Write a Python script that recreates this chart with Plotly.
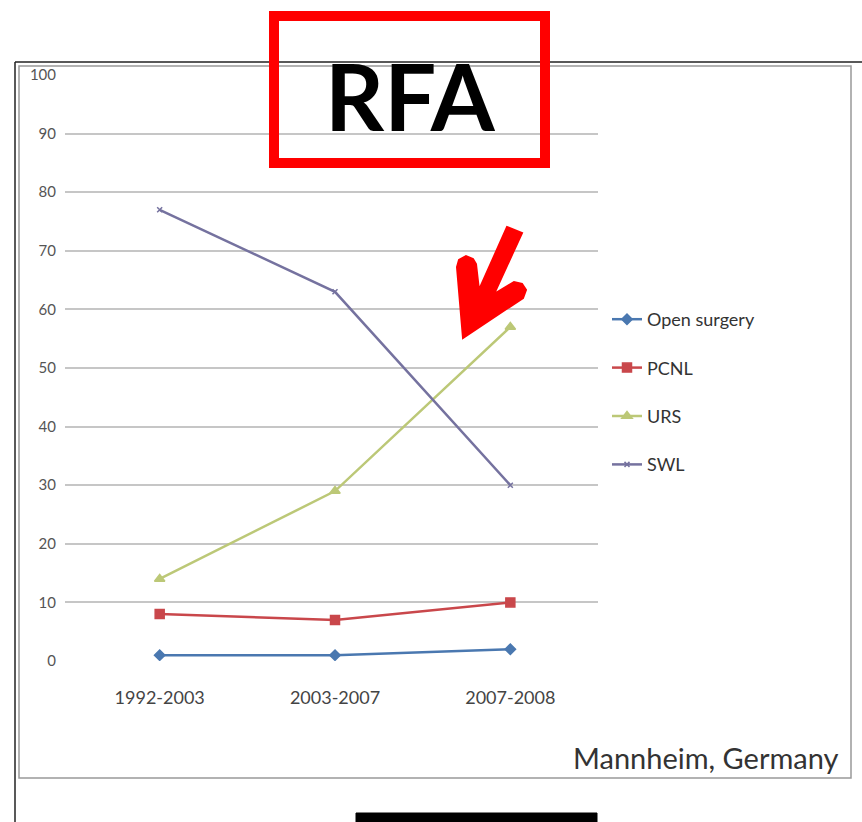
import plotly.graph_objects as go

W, H = 862, 822

periods = ["1992-2003", "2003-2007", "2007-2008"]
open_surgery = [1, 1, 2]
pcnl = [8, 7, 10]
urs = [14, 29, 57]
swl = [77, 63, 30]
y_ticks = [0, 10, 20, 30, 40, 50, 60, 70, 80, 90, 100]

series = [
    ("Open surgery", open_surgery, "#4a78b0", "diamond", 8),
    ("PCNL", pcnl, "#c9474b", "square", 9),
    ("URS", urs, "#bcc877", "triangle-up", 9),
    ("SWL", swl, "#75729f", "x-thin", 5),
]


def px(x):
    return x / W


def py(y):
    return (H - y) / H


def poly(points):
    return "M " + " L ".join(f"{px(x):.5f},{py(y):.5f}" for x, y in points) + " Z"


fig = go.Figure()
for i, (name, vals, color, sym, size) in enumerate(series):
    fig.add_trace(go.Scatter(
        x=periods, y=vals, name=name, mode="lines+markers",
        line=dict(color=color, width=2.5),
        marker=dict(symbol=sym, size=size, color=color,
                    line=dict(color=color, width=1.5)),
        legendgroup=f"g{i}",
    ))

arrow_outline = [
    (463, 338), (457, 267), (459, 260), (466, 256), (473, 259), (476, 264),
    (479, 290), (507, 227), (522, 233), (494, 294), (514, 282), (522, 284),
    (526, 290), (523, 298),
]

shapes = [
    # outer frame lines
    dict(type="line", xref="paper", yref="paper", x0=px(15), x1=px(15), y0=py(62), y1=py(822),
         line=dict(color="#222", width=1.5)),
    dict(type="line", xref="paper", yref="paper", x0=px(15), x1=px(862), y0=py(62), y1=py(62),
         line=dict(color="#222", width=1.5)),
    # inner picture frame
    dict(type="rect", xref="paper", yref="paper", x0=px(19), x1=px(851), y0=py(778), y1=py(66),
         line=dict(color="#999", width=1.5)),
    # red title box
    dict(type="rect", xref="paper", yref="paper", x0=px(274), x1=px(545), y0=py(163), y1=py(16),
         line=dict(color="#ff0000", width=10), fillcolor="rgba(0,0,0,0)"),
    # red arrow
    dict(type="path", xref="paper", yref="paper", path=poly(arrow_outline),
         fillcolor="#ff0000", line=dict(color="#ff0000", width=2)),
    # black box at the bottom
    dict(type="rect", xref="paper", yref="paper", x0=px(356), x1=px(597), y0=py(830), y1=py(813),
         line=dict(color="#000", width=1), fillcolor="#000"),
]

annotations = [
    dict(text="<b>RFA</b>", x=px(410), y=py(96), xref="paper", yref="paper",
         showarrow=False, font=dict(family="Lato", size=92, color="#000"),
         xanchor="center", yanchor="middle"),
    dict(text="Mannheim, Germany", x=px(841), y=py(757), xref="paper", yref="paper",
         showarrow=False, font=dict(family="Lato", size=29, color="#333"),
         xanchor="right", yanchor="middle"),
]

fig.update_layout(
    width=W, height=H,
    margin=dict(l=0, r=0, t=0, b=0, autoexpand=False),
    paper_bgcolor="white", plot_bgcolor="white",
    showlegend=True,
    legend=dict(x=px(607), y=py(301), xanchor="left", yanchor="top",
                font=dict(family="Lato", size=18, color="#333"),
                tracegroupgap=22, bgcolor="rgba(0,0,0,0)", itemwidth=30),
    xaxis=dict(domain=[px(65), px(598)], range=[-0.54, 2.5], type="category",
               showgrid=False, zeroline=False, showline=False, ticklabelstandoff=24,
               tickfont=dict(family="Lato", size=18, color="#444"), ticks=""),
    yaxis=dict(domain=[py(661), py(75)], range=[0, 100], tickvals=y_ticks,
               showgrid=True, gridcolor="#c6c6c6", gridwidth=2,
               zeroline=False, showline=False, ticklabelstandoff=8,
               tickfont=dict(family="Lato", size=15, color="#555"), ticks=""),
    shapes=shapes,
    annotations=annotations,
)

fig.write_html("out.html")
